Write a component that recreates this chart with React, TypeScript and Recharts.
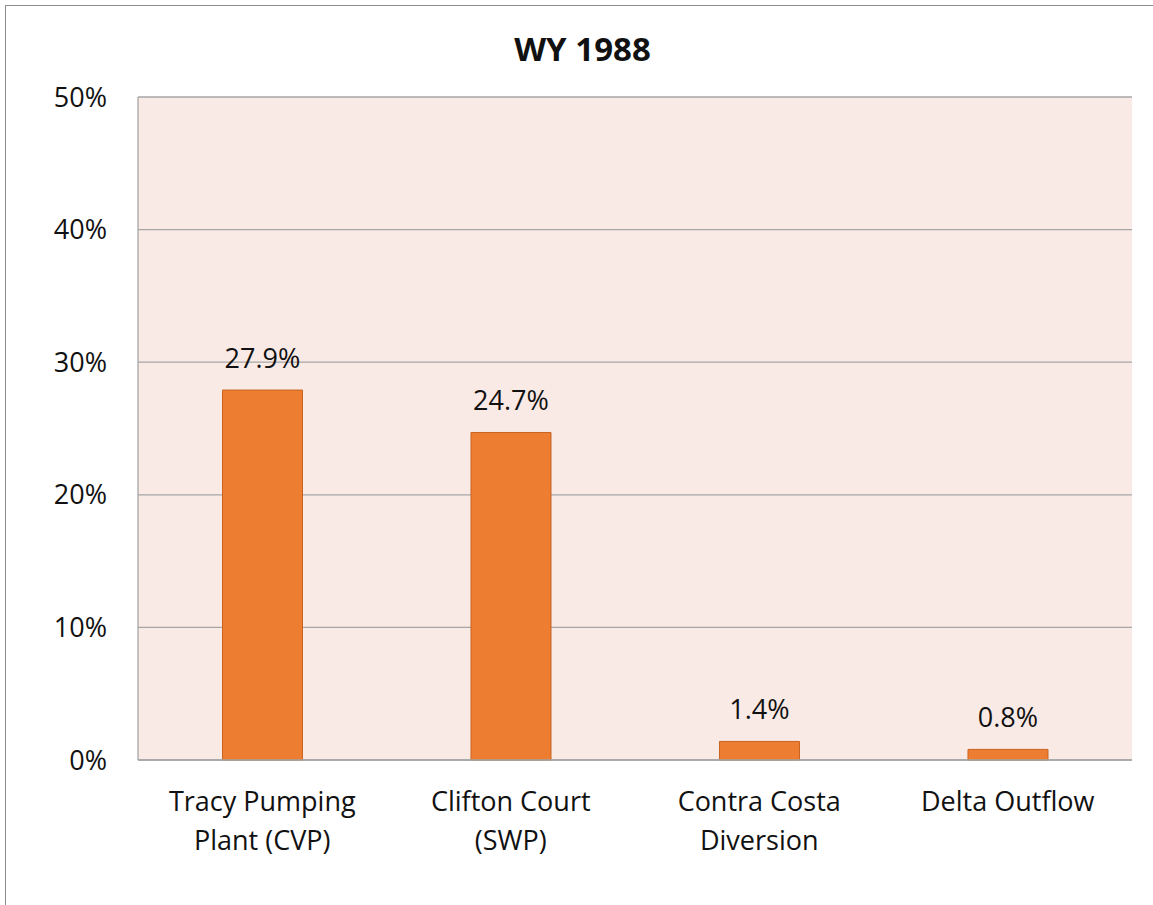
import { BarChart, Bar, XAxis, YAxis, CartesianGrid, LabelList } from "recharts";

const categories = [
  "Tracy Pumping\nPlant (CVP)",
  "Clifton Court\n(SWP)",
  "Contra Costa\nDiversion",
  "Delta Outflow",
];
const shares = [27.9, 24.7, 1.4, 0.8];
const yTicks = [0, 10, 20, 30, 40, 50];

const data = categories.map((name, i) => ({ name, share: shares[i] }));

const FONT = "'Open Sans', sans-serif";

function CategoryTick(props: any) {
  const { x, y, payload } = props;
  const lines = String(payload.value).split("\n");
  return (
    <text
      x={x}
      y={y}
      textAnchor="middle"
      fill="#111"
      fontSize={27}
      fontFamily={FONT}
    >
      {lines.map((l, i) => (
        <tspan key={i} x={x} dy={i === 0 ? 43 : 39}>
          {l}
        </tspan>
      ))}
    </text>
  );
}

export default function App() {
  return (
    <div
      style={{
        position: "absolute",
        left: 0,
        top: 0,
        width: 1153,
        height: 905,
        background: "#fff",
        overflow: "hidden",
      }}
    >
      <div
        style={{
          position: "absolute",
          left: 5,
          top: 5,
          width: 1170,
          height: 920,
          border: "1px solid #8c8c8c",
        }}
      />
      <div
        style={{
          position: "absolute",
          top: 26,
          left: 0,
          width: 1165,
          textAlign: "center",
          fontFamily: FONT,
          fontWeight: 700,
          fontSize: 33,
          color: "#111",
        }}
      >
        WY 1988
      </div>
      <div style={{ position: "absolute", left: 0, top: 0 }}>
        <BarChart
          width={1153}
          height={905}
          data={data}
          margin={{ top: 97, right: 21, bottom: 45, left: 0 }}
          barCategoryGap="34%"
        >
          <CartesianGrid
            vertical={false}
            stroke="#a6a6a6"
            strokeWidth={1.3}
            fill="#faeae6"
          />
          <XAxis
            dataKey="name"
            tick={<CategoryTick />}
            tickLine={false}
            axisLine={{ stroke: "#a6a6a6", strokeWidth: 1.3 }}
            height={100}
            interval={0}
          />
          <YAxis
            width={138}
            domain={[0, 50]}
            ticks={yTicks}
            tickFormatter={(v: number) => `${v}%`}
            tickLine={false}
            axisLine={{ stroke: "#a6a6a6", strokeWidth: 1.3 }}
            tickMargin={25}
            tick={{ fill: "#111", fontSize: 27, fontFamily: FONT }}
          />
          <Bar
            dataKey="share"
            fill="#ed7d31"
            stroke="#c8631f"
            strokeWidth={1}
            isAnimationActive={false}
          >
            <LabelList
              dataKey="share"
              position="top"
              offset={22}
              formatter={(v: any) => `${Number(v).toFixed(1)}%`}
              style={{ fill: "#111", fontSize: 27, fontFamily: FONT }}
            />
          </Bar>
        </BarChart>
      </div>
    </div>
  );
}
